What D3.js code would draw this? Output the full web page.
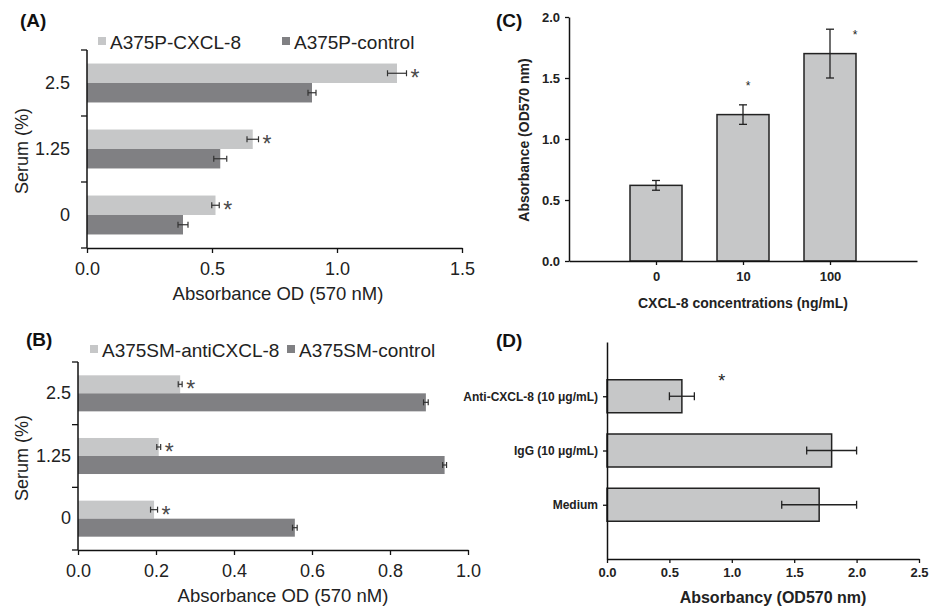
<!DOCTYPE html>
<html>
<head>
<meta charset="utf-8">
<script src="https://cdn.jsdelivr.net/npm/d3@7"></script>
<style>
  body { margin: 0; background: #fff; }
  svg { font-family: Arial, "Liberation Sans", sans-serif; }
</style>
</head>
<body>
<div id="chart"></div>
<script>
// ---- data ----
// (A) A375P cells
const aCats = ["2.5", "1.25", "0"];
const aSeries = ["A375P-CXCL-8", "A375P-control"];
const aCxcl = [1.24, 0.663, 0.514];
const aCxclErr = [0.038, 0.023, 0.015];
const aCtrl = [0.90, 0.533, 0.384];
const aCtrlErr = [0.016, 0.026, 0.02];
const aTicks = [0, 0.5, 1.0, 1.5];

// (B) A375SM cells
const bCats = ["2.5", "1.25", "0"];
const bSeries = ["A375SM-antiCXCL-8", "A375SM-control"];
const bAnti = [0.262, 0.207, 0.195];
const bAntiErr = [0.005, 0.005, 0.009];
const bCtrl = [0.892, 0.94, 0.556];
const bCtrlErr = [0.006, 0.005, 0.006];
const bTicks = [0, 0.2, 0.4, 0.6, 0.8, 1.0];

// (C) CXCL-8 dose
const cCats = ["0", "10", "100"];
const cVals = [0.62, 1.20, 1.70];
const cErr = [0.04, 0.08, 0.20];
const cStar = [null, 1.46, 1.88];
const cTicks = [0, 0.5, 1.0, 1.5, 2.0];

// (D) neutralising antibody
const dCats = ["Anti-CXCL-8 (10 μg/mL)", "IgG (10 μg/mL)", "Medium"];
const dVals = [0.60, 1.80, 1.70];
const dErr = [0.10, 0.20, 0.30];
const dStar = [0.92, null, null];
const dTicks = [0, 0.5, 1.0, 1.5, 2.0, 2.5];

const light = "#c6c7c8";
const dark = "#808083";
const ink = "#222";

const svg = d3.select("#chart")
    .append("svg")
    .attr("width", 935)
    .attr("height", 609);

svg.append("rect").attr("width", 935).attr("height", 609).attr("fill", "#fff");

function panelLabel(txt, x, y) {
    svg.append("text")
        .attr("x", x).attr("y", y)
        .style("font-size", "19px")
        .style("font-weight", "bold")
        .attr("fill", "#111")
        .text(txt);
}

function styleAxis(g, size, bold) {
    g.select(".domain").attr("stroke", "#111").attr("stroke-width", 1.5);
    g.selectAll(".tick line").attr("stroke", "#111").attr("stroke-width", 1.3);
    g.selectAll(".tick text")
        .attr("fill", "#222")
        .style("font-size", size + "px")
        .style("font-weight", bold ? "bold" : "normal")
        .style("font-family", "Arial, 'Liberation Sans', sans-serif");
}

// horizontal grouped bars for panels A and B
function serumPanel(p) {
    const x = d3.scaleLinear().domain([0, p.xMax]).range([p.left, p.right]);
    const y = d3.scaleBand().domain(p.cats).range([p.top, p.bottom])
        .paddingInner(p.pad).paddingOuter(p.pad / 2);
    const ys = d3.scaleBand().domain([0, 1]).range([0, y.bandwidth()]);
    const g = svg.append("g");

    const flat = p.cats.flatMap((c, i) => [
        { c, s: 0, v: p.v1[i], e: p.e1[i] },
        { c, s: 1, v: p.v2[i], e: p.e2[i] }
    ]);

    g.selectAll("rect.bar")
        .data(flat)
        .join("rect")
        .attr("class", "bar")
        .attr("x", x(0))
        .attr("y", d => y(d.c) + ys(d.s))
        .attr("width", d => x(d.v) - x(0))
        .attr("height", ys.bandwidth())
        .attr("fill", d => d.s === 0 ? light : dark);

    const cy = d => y(d.c) + ys(d.s) + ys.bandwidth() / 2;

    g.selectAll("line.err")
        .data(flat)
        .join("line")
        .attr("x1", d => x(d.v - d.e)).attr("x2", d => x(d.v + d.e))
        .attr("y1", cy).attr("y2", cy)
        .attr("stroke", "#333").attr("stroke-width", 1.2);

    flat.forEach(d => {
        [d.v - d.e, d.v + d.e].forEach(v => {
            g.append("line")
                .attr("x1", x(v)).attr("x2", x(v))
                .attr("y1", cy(d) - 3).attr("y2", cy(d) + 3)
                .attr("stroke", "#333").attr("stroke-width", 1.2);
        });
    });

    // significance stars on the treated series
    g.selectAll("text.star")
        .data(flat.filter(d => d.s === 0))
        .join("text")
        .attr("x", d => x(d.v + d.e) + 4)
        .attr("y", d => cy(d) + 13)
        .attr("fill", "#4a4a4a")
        .style("font-size", "23px")
        .text("*");

    // x axis
    const xAxis = g.append("g")
        .attr("transform", `translate(0,${p.bottom})`)
        .call(d3.axisBottom(x).tickValues(p.ticks).tickFormat(d3.format(".1f"))
            .tickSize(5).tickSizeOuter(0).tickPadding(9));
    styleAxis(xAxis, 18, false);

    // y axis: line, boundary ticks, centred labels
    const yAxis = g.append("g")
        .attr("transform", `translate(${p.left},0)`)
        .call(d3.axisLeft(y).tickSize(0).tickPadding(p.labelPad));
    yAxis.select(".domain").remove();
    styleAxis(yAxis, 18, false);
    g.append("line")
        .attr("x1", p.left).attr("x2", p.left)
        .attr("y1", p.top).attr("y2", p.bottom)
        .attr("stroke", "#111").attr("stroke-width", 1.5);
    g.selectAll("line.btick")
        .data(d3.range(p.cats.length + 1))
        .join("line")
        .attr("x1", p.left - 6).attr("x2", p.left)
        .attr("y1", i => p.top + i * y.step())
        .attr("y2", i => p.top + i * y.step())
        .attr("stroke", "#111").attr("stroke-width", 1.3);

    g.append("text")
        .attr("x", p.titleX).attr("y", p.bottom + 52)
        .attr("text-anchor", "middle")
        .attr("fill", "#222")
        .style("font-size", "18.5px")
        .text("Absorbance OD (570 nM)");

    g.append("text")
        .attr("transform", `translate(28,${(p.top + p.bottom) / 2 + 2}) rotate(-90)`)
        .attr("text-anchor", "middle")
        .attr("fill", "#222")
        .style("font-size", "18px")
        .text("Serum (%)");

    // legend
    p.series.forEach((name, i) => {
        g.append("rect")
            .attr("x", p.legX[i]).attr("y", p.legY - 12)
            .attr("width", 8).attr("height", 8)
            .attr("fill", i === 0 ? light : dark);
        g.append("text")
            .attr("x", p.legX[i] + 12).attr("y", p.legY)
            .attr("fill", "#222")
            .style("font-size", "19px")
            .text(name);
    });
}

serumPanel({
    cats: aCats, series: aSeries,
    v1: aCxcl, e1: aCxclErr, v2: aCtrl, e2: aCtrlErr,
    xMax: 1.5, ticks: aTicks,
    left: 87, right: 462, top: 50, bottom: 248, pad: 0.41,
    labelPad: 17, titleX: 278,
    legX: [98, 282], legY: 49
});

serumPanel({
    cats: bCats, series: bSeries,
    v1: bAnti, e1: bAntiErr, v2: bCtrl, e2: bCtrlErr,
    xMax: 1.0, ticks: bTicks,
    left: 78, right: 468, top: 362, bottom: 550, pad: 0.425,
    labelPad: 7, titleX: 283,
    legX: [90, 287], legY: 357
});

panelLabel("(A)", 20, 27);
panelLabel("(B)", 26, 346);
panelLabel("(C)", 496, 27);
panelLabel("(D)", 496, 347);

// ---- (C) vertical bars ----
{
    const x = d3.scalePoint().domain(cCats).range([569, 917]).padding(1);
    const y = d3.scaleLinear().domain([0, 2]).range([261, 17]);
    const g = svg.append("g");
    const bw = 52;

    g.selectAll("rect")
        .data(cCats)
        .join("rect")
        .attr("x", d => x(d) - bw / 2)
        .attr("y", (d, i) => y(cVals[i]))
        .attr("width", bw)
        .attr("height", (d, i) => y(0) - y(cVals[i]))
        .attr("fill", light)
        .attr("stroke", ink)
        .attr("stroke-width", 1.5);

    cCats.forEach((c, i) => {
        const hi = y(cVals[i] + cErr[i]), lo = y(cVals[i] - cErr[i]);
        g.append("line").attr("x1", x(c)).attr("x2", x(c)).attr("y1", hi).attr("y2", lo)
            .attr("stroke", ink).attr("stroke-width", 1.3);
        [hi, lo].forEach(yy => g.append("line")
            .attr("x1", x(c) - 4).attr("x2", x(c) + 4).attr("y1", yy).attr("y2", yy)
            .attr("stroke", ink).attr("stroke-width", 1.3));
    });

    const starShift = [0, 5, 25];
    cCats.forEach((c, i) => {
        if (cStar[i] == null) return;
        g.append("text")
            .attr("x", x(c) + starShift[i]).attr("y", y(cStar[i]) + 7)
            .attr("text-anchor", "middle")
            .attr("fill", ink)
            .style("font-size", "12px")
            .text("*");
    });

    const xa = g.append("g").attr("transform", "translate(0,261)")
        .call(d3.axisBottom(x).tickSize(4).tickSizeOuter(0).tickPadding(7));
    styleAxis(xa, 13, true);
    const ya = g.append("g").attr("transform", "translate(569,0)")
        .call(d3.axisLeft(y).tickValues(cTicks).tickFormat(d3.format(".1f"))
            .tickSize(4).tickSizeOuter(0).tickPadding(5));
    styleAxis(ya, 13, true);

    g.append("text")
        .attr("x", 743).attr("y", 308)
        .attr("text-anchor", "middle")
        .attr("fill", ink)
        .style("font-size", "14px").style("font-weight", "bold")
        .text("CXCL-8 concentrations (ng/mL)");
    g.append("text")
        .attr("transform", "translate(529,140) rotate(-90)")
        .attr("text-anchor", "middle")
        .attr("fill", ink)
        .style("font-size", "14px").style("font-weight", "bold")
        .text("Absorbance (OD570 nm)");
}

// ---- (D) horizontal bars ----
{
    const x = d3.scaleLinear().domain([0, 2.5]).range([607, 919]);
    const y = d3.scalePoint().domain(dCats).range([342, 559]).padding(1);
    const g = svg.append("g");
    const bh = 33;

    g.selectAll("rect")
        .data(dCats)
        .join("rect")
        .attr("x", x(0))
        .attr("y", d => y(d) - bh / 2)
        .attr("width", (d, i) => x(dVals[i]) - x(0))
        .attr("height", bh)
        .attr("fill", light)
        .attr("stroke", ink)
        .attr("stroke-width", 1.5);

    dCats.forEach((c, i) => {
        const l = x(dVals[i] - dErr[i]), r = x(dVals[i] + dErr[i]);
        g.append("line").attr("x1", l).attr("x2", r).attr("y1", y(c)).attr("y2", y(c))
            .attr("stroke", ink).attr("stroke-width", 1.3);
        [l, r].forEach(xx => g.append("line")
            .attr("x1", xx).attr("x2", xx).attr("y1", y(c) - 4).attr("y2", y(c) + 4)
            .attr("stroke", ink).attr("stroke-width", 1.3));
        if (dStar[i] != null) {
            g.append("text")
                .attr("x", x(dStar[i])).attr("y", y(c) - 9)
                .attr("text-anchor", "middle")
                .attr("fill", ink)
                .style("font-size", "18px")
                .text("*");
        }
    });

    const xa = g.append("g").attr("transform", "translate(0,559)")
        .call(d3.axisBottom(x).tickValues(dTicks).tickFormat(d3.format(".1f"))
            .tickSize(4).tickSizeOuter(0).tickPadding(5));
    styleAxis(xa, 13, true);
    const ya = g.append("g").attr("transform", "translate(607,0)")
        .call(d3.axisLeft(y).tickSize(4).tickSizeOuter(0).tickPadding(5));
    styleAxis(ya, 12, true);

    g.append("text")
        .attr("x", 773).attr("y", 603)
        .attr("text-anchor", "middle")
        .attr("fill", ink)
        .style("font-size", "16px").style("font-weight", "bold")
        .text("Absorbancy (OD570 nm)");
}
</script>
</body>
</html>
